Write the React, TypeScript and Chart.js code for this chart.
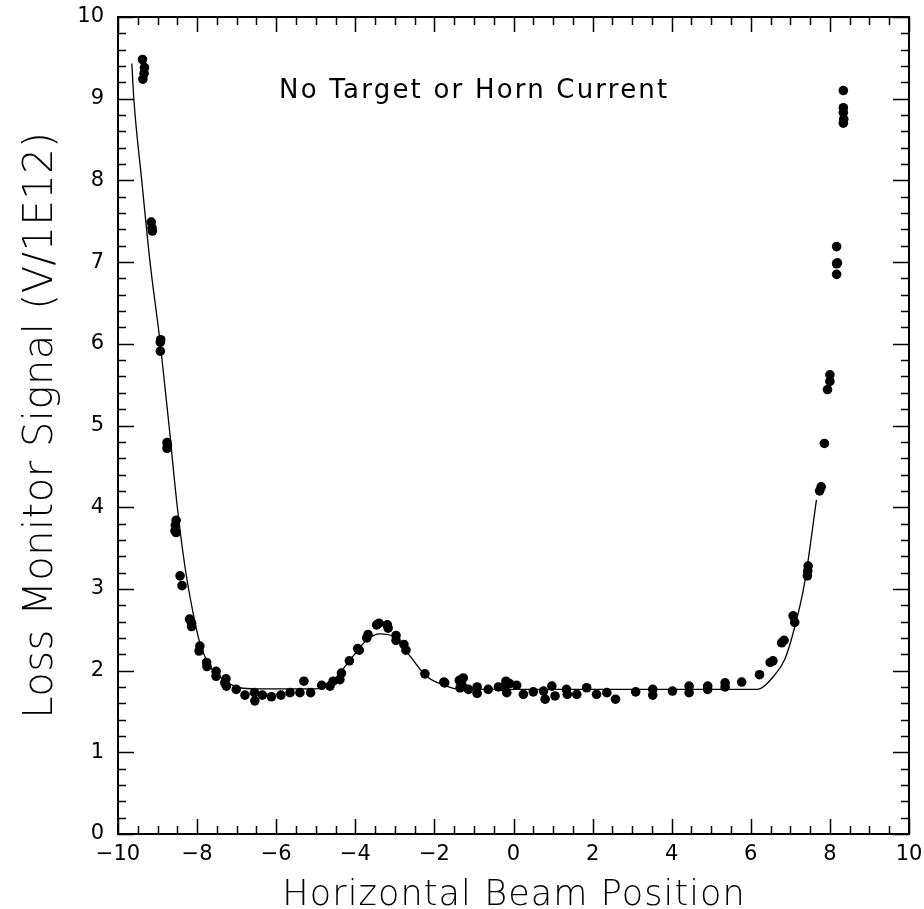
import React, { useEffect, useRef } from "react";
import { Chart, registerables } from "chart.js";

Chart.register(...registerables);

// Measured data points (horizontal beam position, loss monitor signal)
const pointX = [
  -9.38, -9.33, -9.34, -9.37,
  -9.16, -9.14, -9.13,
  -8.92, -8.93, -8.93,
  -8.76, -8.75, -8.76,
  -8.53, -8.55, -8.56, -8.53,
  -8.43, -8.38,
  -8.19, -8.14, -8.14,
  -7.93, -7.95,
  -7.76, -7.75,
  -7.52, -7.52,
  -7.27, -7.26, -7.3,
  -7.01, -6.79, -6.55, -6.54, -6.35, -6.12, -5.88, -5.65, -5.4, -5.3, -5.13,
  -4.85, -4.64, -4.56, -4.39, -4.35, -4.15, -3.94, -3.9, -3.71, -3.68, -3.46, -3.4, -3.19, -3.17,
  -2.97, -2.97, -2.77, -2.72, -2.24,
  -1.76, -1.74, -1.37, -1.27, -1.35, -1.3, -1.14, -0.92, -0.92, -0.64, -0.38, -0.19, -0.17, -0.25, -0.1,
  0.08, 0.25, 0.5, 0.76, 0.8, 0.97, 1.05, 1.34, 1.36, 1.6, 1.85, 2.1, 2.36, 2.58, 3.09, 3.52, 3.52, 4.02,
  4.44, 4.44, 4.91, 4.91, 5.35, 5.35, 5.77, 6.22, 6.49, 6.56, 6.78, 6.84, 7.07, 7.11, 7.45, 7.44, 7.43,
  7.74, 7.78, 7.86, 7.94, 8.0, 8.0, 8.17, 8.17, 8.19, 8.17, 8.34, 8.35, 8.34, 8.34, 8.34,
];
const pointY = [
  9.48, 9.38, 9.31, 9.24,
  7.49, 7.42, 7.38,
  6.05, 6.02, 5.91,
  4.79, 4.75, 4.72,
  3.84, 3.78, 3.71, 3.69,
  3.16, 3.04,
  2.63, 2.58, 2.54,
  2.3, 2.24,
  2.1, 2.05,
  1.99, 1.93,
  1.9, 1.81, 1.85,
  1.77, 1.7, 1.73, 1.63, 1.7, 1.68, 1.7, 1.73, 1.73, 1.87, 1.73,
  1.82, 1.81, 1.87, 1.89, 1.97, 2.12, 2.27, 2.25, 2.4, 2.44, 2.56, 2.58, 2.56, 2.52,
  2.43, 2.37, 2.32, 2.25, 1.96,
  1.86, 1.85, 1.88, 1.91, 1.79, 1.82, 1.77, 1.8, 1.72, 1.77, 1.8, 1.87, 1.73, 1.8, 1.84,
  1.82, 1.71, 1.74, 1.75, 1.65, 1.81, 1.69, 1.77, 1.71, 1.71, 1.79, 1.71, 1.73, 1.65, 1.74, 1.77, 1.7, 1.75,
  1.81, 1.73, 1.81, 1.77, 1.85, 1.8, 1.86, 1.95, 2.1, 2.12, 2.34, 2.37, 2.67, 2.59, 3.28, 3.22, 3.16,
  4.2, 4.25, 4.78, 5.44, 5.54, 5.62, 6.85, 6.98, 6.99, 7.19, 8.7, 8.75, 8.83, 8.89, 9.1,
];

// Fitted curve
const fitX = [-9.65, -9.6, -9.4, -9.19, -8.93, -8.71, -8.5, -8.3, -8.07, -7.93, -7.67, -7.3, -6.92, -6.5, -5.0, -4.6, -4.05, -3.7, -3.38, -3.04, -2.62, -2.2, -1.69, -1.35, 6.15, 6.61, 6.86, 7.07, 7.36, 7.66];
const fitY = [9.43, 9.0, 8.0, 7.0, 6.0, 5.0, 4.0, 3.25, 2.63, 2.34, 2.05, 1.88, 1.79, 1.777, 1.777, 1.86, 2.18, 2.38, 2.45, 2.42, 2.18, 1.93, 1.81, 1.77, 1.77, 1.95, 2.14, 2.46, 3.07, 4.09];

const annotationText = "No Target or Horn Current";
const annotationAt = [-1.02, 9.1];
const xTitle = "Horizontal Beam Position";
const yTitle = "Loss Monitor Signal (V/1E12)";

const FONT = "'DejaVu Sans', Lato, sans-serif";
const LIGHT = "200";

function spacedText(ctx: any, text: string, x: number, y: number, spacing: number) {
  ctx.letterSpacing = `${spacing}px`;
  ctx.fillText(text, x + spacing / 2, y);
  ctx.letterSpacing = "0px";
}

const framePlugin = {
  id: "frameTicks",
  afterDatasetsDraw(chart: any) {
    const { ctx, chartArea: a, scales } = chart;
    const x = scales.x;
    const y = scales.y;
    ctx.save();
    ctx.strokeStyle = "#000";
    ctx.lineWidth = 1.5;
    ctx.beginPath();
    for (let i = -20; i <= 20; i++) {
      const px = Math.round(x.getPixelForValue(i * 0.5)) + 0.5;
      const len = i % 4 === 0 ? 15 : 8;
      ctx.moveTo(px, a.bottom);
      ctx.lineTo(px, a.bottom - len);
      ctx.moveTo(px, a.top);
      ctx.lineTo(px, a.top + len);
    }
    for (let i = 0; i <= 50; i++) {
      const py = Math.round(y.getPixelForValue(i * 0.2)) + 0.5;
      const len = i % 5 === 0 ? 16 : 8;
      ctx.moveTo(a.left, py);
      ctx.lineTo(a.left + len, py);
      ctx.moveTo(a.right, py);
      ctx.lineTo(a.right - len, py);
    }
    ctx.stroke();
    ctx.lineWidth = 2;
    ctx.strokeRect(a.left, a.top, a.right - a.left, a.bottom - a.top);

    ctx.fillStyle = "#000";
    ctx.textAlign = "center";
    ctx.textBaseline = "alphabetic";
    // annotation inside plot
    ctx.font = `26px ${FONT}`;
    spacedText(ctx, annotationText, x.getPixelForValue(annotationAt[0]), y.getPixelForValue(annotationAt[1]) + 7, 2.2);

    // axis titles
    const cx = (a.left + a.right) / 2;
    const cy = (a.top + a.bottom) / 2;
    ctx.font = `${LIGHT} 35px ${FONT}`;
    spacedText(ctx, xTitle, cx, 905, 1.1);
    ctx.save();
    ctx.translate(52, cy);
    ctx.rotate(-Math.PI / 2);
    ctx.font = `${LIGHT} 40px ${FONT}`;
    spacedText(ctx, yTitle, 0, 0, 0.5);
    ctx.restore();
    ctx.restore();
  },
};

const minus = (v: any) => String(v).replace("-", "\u2212");

export default function App() {
  const ref = useRef<HTMLCanvasElement>(null);
  useEffect(() => {
    if (!ref.current) return;
    const chart = new Chart(ref.current, {
      type: "scatter",
      data: {
        datasets: [
          {
            label: "data",
            data: pointX.map((v, i) => ({ x: v, y: pointY[i] })),
            backgroundColor: "#000",
            borderColor: "#000",
            pointRadius: 4.8,
            pointBorderWidth: 0,
            showLine: false,
          },
          {
            label: "fit",
            type: "line",
            data: fitX.map((v, i) => ({ x: v, y: fitY[i] })),
            borderColor: "#000",
            borderWidth: 1.3,
            pointRadius: 0,
            showLine: true,
            fill: false,
            cubicInterpolationMode: "monotone",
          } as any,
        ],
      },
      options: {
        animation: false,
        responsive: false,
        maintainAspectRatio: false,
        layout: { padding: { top: 17, right: 15, left: 0, bottom: 0 } },
        plugins: { legend: { display: false }, tooltip: { enabled: false } },
        scales: {
          x: {
            type: "linear",
            min: -10,
            max: 10,
            grid: { display: false, drawTicks: false },
            border: { display: false },
            ticks: { stepSize: 2, padding: 8, color: "#000", font: { family: FONT, size: 21 }, callback: minus },
            afterFit: (s: any) => {
              s.height = 75;
              s.paddingLeft = 0;
              s.paddingRight = 0;
              s.paddingTop = 0;
              s.paddingBottom = 0;
            },
          },
          y: {
            type: "linear",
            min: 0,
            max: 10,
            grid: { display: false, drawTicks: false },
            border: { display: false },
            ticks: { stepSize: 1, padding: 14, color: "#000", font: { family: FONT, size: 21 }, callback: minus },
            afterFit: (s: any) => {
              s.width = 118;
              s.paddingLeft = 0;
              s.paddingRight = 0;
              s.paddingTop = 0;
              s.paddingBottom = 0;
            },
          },
        },
      },
      plugins: [framePlugin],
    });
    return () => chart.destroy();
  }, []);
  return (
    <div style={{ position: "absolute", left: 0, top: 0, width: 924, height: 909, background: "#fff" }}>
      <canvas ref={ref} width={924} height={909} style={{ width: 924, height: 909 }} />
    </div>
  );
}
